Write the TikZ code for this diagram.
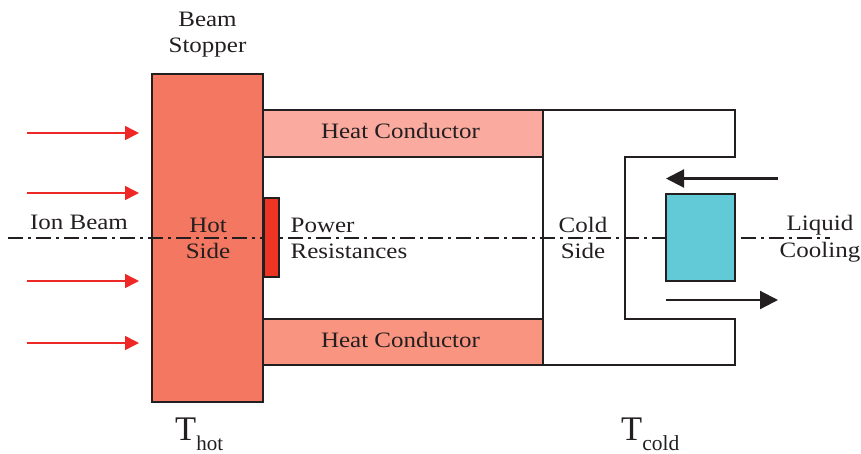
\documentclass[tikz,border=0pt]{standalone}
\usepackage{fontspec}
\setmainfont[FakeStretch=1.136]{Liberation Serif}
\newfontfamily\plainserif{Liberation Serif}
\usetikzlibrary{arrows.meta}
\definecolor{hotred}{RGB}{244,119,97}
\definecolor{condA}{RGB}{250,170,158}
\definecolor{condB}{RGB}{249,148,128}
\definecolor{resred}{RGB}{238,53,36}
\definecolor{coolcyan}{RGB}{98,202,214}
\definecolor{ink}{RGB}{35,31,32}
\definecolor{beamred}{RGB}{238,40,38}
\tikzset{
  box/.style={draw=ink,line width=2pt,inner sep=0pt,outer sep=0pt,anchor=north west},
  lbl/.style={text=ink,font=\fontsize{22}{26.5}\selectfont,align=center,inner sep=0pt,anchor=base},
  temp/.style={text=ink,inner sep=0pt,anchor=base west,font=\plainserif\fontsize{34.5}{36}\selectfont},
  beam/.style={draw=beamred,line width=1.5pt,-{Triangle[length=14pt,width=14pt]}},
  flow/.style={draw=ink,line width=2.2pt,-{Triangle[length=18pt,width=18pt]}},
  axis/.style={draw=ink,line width=1.3pt,dash pattern=on 15pt off 5pt on 3pt off 5pt}
}
\begin{document}
\begin{tikzpicture}[x=1pt,y=-1pt]
\useasboundingbox (0,0) rectangle (861,453);
% fills and outlines
\node[box,fill=hotred,minimum width=111pt,minimum height=328pt] (stopper) at (152,74) {};
\node[box,fill=condA,line width=1.7pt,minimum width=280pt,minimum height=47pt] (condtop) at (263,110) {};
\node[box,fill=condB,line width=1.7pt,minimum width=280pt,minimum height=46pt] (condbot) at (263,319) {};
\node[box,fill=coolcyan,line width=1.8pt,minimum width=69pt,minimum height=87pt] (cooler) at (666,194) {};
% cold side outline
\coordinate (c1) at (condtop.north east);
\coordinate (c2) at (735,110);
\coordinate (c3) at (735,157);
\coordinate (c4) at (625,157);
\coordinate (c5) at (625,319);
\coordinate (c6) at (735,319);
\coordinate (c7) at (735,365);
\coordinate (c8) at (condbot.south east);
\draw[draw=ink,line width=2pt,line join=miter] (c1) -- (c2) -- (c3) -- (c4) -- (c5) -- (c6) -- (c7) -- (c8);
\draw[draw=ink,line width=1.5pt] (c1) -- (c8);
% axis
\coordinate (axL) at (8,238);
\coordinate (axR) at (741,238);
\coordinate (axE) at (830,238);
\draw[axis] (axL) -- (cooler.west |- axL);
\draw[axis] (axR) -- (axE);
\node[box,fill=resred,minimum width=15pt,minimum height=79pt] (res) at (264,198) {};
% beam arrows
\foreach \n/\y in {a/133,b/193,c/281,d/343}{
  \coordinate (s\n) at (27,\y);
  \coordinate (e\n) at (139,\y);
  \draw[beam] (s\n) -- (e\n);
}
% coolant arrows
\coordinate (fa) at (778,178.5);
\coordinate (fb) at (666,178.5);
\coordinate (fc) at (666,300);
\coordinate (fd) at (778,300);
\draw[flow] (fa) -- (fb);
\draw[flow] (fc) -- (fd);
% labels
\node[lbl] (t1) at (207.5,52.5) {Beam\\Stopper};
\node[lbl] (t2) at (79,229) {Ion Beam};
\node[lbl] (t3) at (208,258.5) {Hot\\Side};
\node[lbl] (t4) at (400.5,138) {Heat Conductor};
\node[lbl] (t5) at (400.5,347) {Heat Conductor};
\node[lbl,align=left] (t6) at (349,258.5) {Power\\Resistances};
\node[lbl] (t7) at (583,258.5) {Cold\\Side};
\node[lbl] (t8) at (820,257) {Liquid\\Cooling};
\node[temp] (t9) at (175,440) {T\raisebox{-10.7pt}{\fontsize{21}{23}\selectfont hot}};
\node[temp] (t10) at (621,440) {T\raisebox{-10.7pt}{\fontsize{21.5}{23}\selectfont cold}};
\end{tikzpicture}
\end{document}
